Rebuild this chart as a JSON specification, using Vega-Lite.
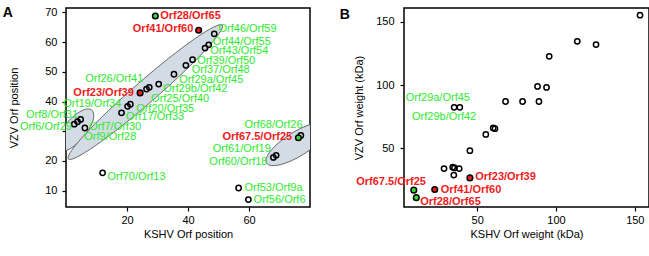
{
  "$schema": "https://vega.github.io/schema/vega-lite/v6.json",
  "padding": {"left": 2, "top": 5, "right": 3, "bottom": 5},
  "config": {
    "font": "Liberation Sans",
    "view": {"stroke": "black", "strokeWidth": 1.5},
    "axis": {"labelFont": "Liberation Sans", "titleFont": "Liberation Sans", "labelFontSize": 11, "titleFontSize": 11, "titleFontWeight": "normal", "labelColor": "black", "titleColor": "black", "domain": false, "grid": false, "tickColor": "black", "tickSize": 4, "tickWidth": 1.2, "labelPadding": 3},
    "concat": {"spacing": 27}
  },
  "datasets": {
    "ptsA": [
      {"name": "Orf28/Orf65", "kshv": 29.3, "vzv": 68.8, "type": "both"},
      {"name": "Orf41/Orf60", "kshv": 43.5, "vzv": 64.0, "type": "red"},
      {"name": "Orf46/Orf59", "kshv": 48.6, "vzv": 62.8, "type": "open"},
      {"name": "Orf44/Orf55", "kshv": 46.8, "vzv": 59.1, "type": "open"},
      {"name": "Orf43/Orf54", "kshv": 45.6, "vzv": 58.0, "type": "open"},
      {"name": "Orf39/Orf50", "kshv": 41.5, "vzv": 54.1, "type": "open"},
      {"name": "Orf37/Orf48", "kshv": 39.3, "vzv": 52.2, "type": "open"},
      {"name": "Orf29a/Orf45", "kshv": 35.4, "vzv": 49.2, "type": "open"},
      {"name": "Orf29b/Orf42", "kshv": 30.4, "vzv": 45.9, "type": "open"},
      {"name": "Orf25/Orf40", "kshv": 27.3, "vzv": 44.8, "type": "open"},
      {"name": "Orf26/Orf41", "kshv": 26.4, "vzv": 44.2, "type": "open"},
      {"name": "Orf23/Orf39", "kshv": 24.3, "vzv": 42.9, "type": "red"},
      {"name": "Orf20/Orf35", "kshv": 21.1, "vzv": 39.1, "type": "open"},
      {"name": "Orf19/Orf34", "kshv": 20.2, "vzv": 38.4, "type": "open"},
      {"name": "Orf17/Orf33", "kshv": 18.2, "vzv": 36.2, "type": "open"},
      {"name": "Orf6/Orf29", "kshv": 2.7, "vzv": 32.4, "type": "open"},
      {"name": "Orf7/Orf30", "kshv": 3.8, "vzv": 33.2, "type": "open"},
      {"name": "Orf8/Orf31", "kshv": 4.8, "vzv": 34.0, "type": "open"},
      {"name": "Orf9/Orf28", "kshv": 6.2, "vzv": 31.1, "type": "open"},
      {"name": "Orf70/Orf13", "kshv": 12.0, "vzv": 16.0, "type": "open"},
      {"name": "Orf53/Orf9a", "kshv": 56.6, "vzv": 10.9, "type": "open"},
      {"name": "Orf56/Orf6", "kshv": 59.8, "vzv": 7.0, "type": "open"},
      {"name": "Orf68/Orf26", "kshv": 77.0, "vzv": 28.6, "type": "open"},
      {"name": "Orf67.5/Orf25", "kshv": 76.2, "vzv": 27.8, "type": "both"},
      {"name": "Orf61/Orf19", "kshv": 68.9, "vzv": 21.9, "type": "open"},
      {"name": "Orf60/Orf18", "kshv": 68.0, "vzv": 21.2, "type": "open"}
    ],
    "lblA": [
      {"text": "Orf28/Orf65", "lx": 30.9, "ly": 68.9, "red": true},
      {"text": "Orf41/Orf60", "lx": 21.9, "ly": 64.3, "red": true},
      {"text": "Orf46/Orf59", "lx": 50.0, "ly": 64.5, "red": false},
      {"text": "Orf44/Orf55", "lx": 48.1, "ly": 60.1, "red": false},
      {"text": "Orf43/Orf54", "lx": 47.3, "ly": 56.9, "red": false},
      {"text": "Orf39/Orf50", "lx": 43.0, "ly": 53.6, "red": false},
      {"text": "Orf37/Orf48", "lx": 41.2, "ly": 50.5, "red": false},
      {"text": "Orf29a/Orf45", "lx": 37.1, "ly": 47.4, "red": false},
      {"text": "Orf29b/Orf42", "lx": 31.9, "ly": 44.2, "red": false},
      {"text": "Orf26/Orf41", "lx": 6.3, "ly": 47.6, "red": false},
      {"text": "Orf23/Orf39", "lx": 2.4, "ly": 42.9, "red": true},
      {"text": "Orf25/Orf40", "lx": 27.9, "ly": 41.0, "red": false},
      {"text": "Orf20/Orf35", "lx": 23.0, "ly": 37.4, "red": false},
      {"text": "Orf17/Orf33", "lx": 19.7, "ly": 34.8, "red": false},
      {"text": "Orf19/Orf34", "lx": -0.9, "ly": 39.1, "red": false},
      {"text": "Orf8/Orf31", "lx": -13.1, "ly": 35.4, "red": false},
      {"text": "Orf6/Orf29", "lx": -15.1, "ly": 31.4, "red": false},
      {"text": "Orf7/Orf30", "lx": 7.6, "ly": 31.5, "red": false},
      {"text": "Orf9/Orf28", "lx": 6.0, "ly": 28.0, "red": false},
      {"text": "Orf70/Orf13", "lx": 13.6, "ly": 14.6, "red": false},
      {"text": "Orf53/Orf9a", "lx": 58.5, "ly": 11.0, "red": false},
      {"text": "Orf56/Orf6", "lx": 61.5, "ly": 7.0, "red": false},
      {"text": "Orf68/Orf26", "lx": 58.5, "ly": 32.1, "red": false},
      {"text": "Orf67.5/Orf25", "lx": 51.3, "ly": 28.1, "red": true},
      {"text": "Orf61/Orf19", "lx": 48.1, "ly": 24.1, "red": false},
      {"text": "Orf60/Orf18", "lx": 47.0, "ly": 19.6, "red": false}
    ],
    "ptsB": [
      {"kshv": 9.8, "vzv": 17.0, "type": "both"},
      {"kshv": 11.4, "vzv": 11.1, "type": "both"},
      {"kshv": 23.1, "vzv": 17.5, "type": "red"},
      {"kshv": 45.4, "vzv": 26.7, "type": "red"},
      {"kshv": 29.0, "vzv": 34.1, "type": "open"},
      {"kshv": 34.5, "vzv": 35.2, "type": "open"},
      {"kshv": 35.6, "vzv": 34.6, "type": "open"},
      {"kshv": 38.6, "vzv": 34.1, "type": "open"},
      {"kshv": 35.2, "vzv": 28.9, "type": "open"},
      {"kshv": 45.4, "vzv": 48.2, "type": "open"},
      {"kshv": 55.5, "vzv": 61.1, "type": "open"},
      {"kshv": 60.2, "vzv": 66.2, "type": "open"},
      {"kshv": 61.3, "vzv": 65.6, "type": "open"},
      {"kshv": 35.4, "vzv": 82.5, "type": "open"},
      {"kshv": 39.0, "vzv": 82.5, "type": "open"},
      {"kshv": 68.0, "vzv": 87.1, "type": "open"},
      {"kshv": 78.8, "vzv": 87.1, "type": "open"},
      {"kshv": 89.2, "vzv": 87.1, "type": "open"},
      {"kshv": 88.3, "vzv": 99.0, "type": "open"},
      {"kshv": 94.0, "vzv": 98.2, "type": "open"},
      {"kshv": 95.7, "vzv": 122.8, "type": "open"},
      {"kshv": 113.5, "vzv": 134.7, "type": "open"},
      {"kshv": 125.4, "vzv": 132.1, "type": "open"},
      {"kshv": 153.3, "vzv": 155.3, "type": "open"}
    ],
    "lblB": [
      {"text": "Orf29a/Orf45", "lx": 4.7, "ly": 89.9, "red": false},
      {"text": "Orf29b/Orf42", "lx": 8.7, "ly": 74.8, "red": false},
      {"text": "Orf67.5/Orf25", "lx": -26.7, "ly": 23.4, "red": true},
      {"text": "Orf41/Orf60", "lx": 26.9, "ly": 16.9, "red": true},
      {"text": "Orf23/Orf39", "lx": 48.8, "ly": 27.4, "red": true},
      {"text": "Orf28/Orf65", "lx": 13.9, "ly": 7.6, "red": true}
    ]
  },
  "hconcat": [
    {
      "width": 244,
      "height": 199,
      "title": {"text": "A", "anchor": "start", "frame": "bounds", "fontSize": 14, "fontWeight": "bold", "font": "Liberation Sans", "offset": -14, "dx": -6},
      "encoding": {
        "x": {"field": "kshv", "type": "quantitative", "scale": {"domain": [0, 80], "nice": false, "zero": false}, "axis": {"values": [20, 40, 60], "title": "KSHV Orf position", "titlePadding": 3}},
        "y": {"field": "vzv", "type": "quantitative", "scale": {"domain": [4.5, 71.5], "nice": false, "zero": false}, "axis": {"values": [10, 20, 30, 40, 50, 60, 70], "labelExpr": "datum.value == 30 ? '' : datum.label", "title": "VZV Orf position", "titlePadding": 25, "labelPadding": 5}}
      },
      "layer": [
        {
          "data": {"values": [{"kshv": 3.0, "vzv": 30.4}]},
          "mark": {"type": "point", "shape": "M -1 0 A 1 0.42 0 1 0 1 0 A 1 0.42 0 1 0 -1 0 Z", "size": 2704, "angle": -50, "filled": true, "fill": "#d3dce5", "fillOpacity": 1, "stroke": "#555555", "strokeWidth": 0.8, "clip": true}
        },
        {
          "data": {"values": [{"kshv": 26.0, "vzv": 43.2}]},
          "mark": {"type": "point", "shape": "M -1 0 A 1 0.108 0 1 0 1 0 A 1 0.108 0 1 0 -1 0 Z", "size": 41616, "angle": -41, "filled": true, "fill": "#d3dce5", "fillOpacity": 1, "stroke": "#555555", "strokeWidth": 0.8, "clip": true}
        },
        {
          "data": {"values": [{"kshv": 75.8, "vzv": 25.7}]},
          "mark": {"type": "point", "shape": "M -1 0 A 1 0.333 0 1 0 1 0 A 1 0.333 0 1 0 -1 0 Z", "size": 5184, "angle": -32, "filled": true, "fill": "#d3dce5", "fillOpacity": 1, "stroke": "#555555", "strokeWidth": 0.8, "clip": true}
        },
        {
          "data": {"name": "ptsA"},
          "transform": [{"filter": "datum.type == 'open'"}],
          "mark": {"type": "point", "shape": "circle", "filled": false, "stroke": "black", "strokeWidth": 1.5, "size": 28, "opacity": 1}
        },
        {
          "data": {"name": "ptsA"},
          "transform": [{"filter": "datum.type == 'red'"}],
          "mark": {"type": "point", "shape": "circle", "filled": true, "fill": "#ee1c1c", "stroke": "black", "strokeWidth": 1.5, "size": 32, "opacity": 1}
        },
        {
          "data": {"name": "ptsA"},
          "transform": [{"filter": "datum.type == 'both'"}],
          "mark": {"type": "point", "shape": "circle", "filled": true, "fill": "#33dd33", "stroke": "black", "strokeWidth": 1.5, "size": 32, "opacity": 1}
        },
        {
          "data": {"name": "lblA"},
          "transform": [{"filter": "!datum.red"}],
          "mark": {"type": "text", "align": "left", "baseline": "middle", "fontSize": 11, "color": "#2fe82f", "font": "Liberation Sans"},
          "encoding": {"x": {"field": "lx", "type": "quantitative"}, "y": {"field": "ly", "type": "quantitative"}, "text": {"field": "text"}}
        },
        {
          "data": {"name": "lblA"},
          "transform": [{"filter": "datum.red"}],
          "mark": {"type": "text", "align": "left", "baseline": "middle", "fontSize": 11, "fontWeight": "bold", "color": "#ee1c1c", "font": "Liberation Sans"},
          "encoding": {"x": {"field": "lx", "type": "quantitative"}, "y": {"field": "ly", "type": "quantitative"}, "text": {"field": "text"}}
        }
      ]
    },
    {
      "width": 245,
      "height": 199,
      "title": {"text": "B", "anchor": "start", "frame": "bounds", "fontSize": 14, "fontWeight": "bold", "font": "Liberation Sans", "offset": -14, "dx": -14},
      "encoding": {
        "x": {"field": "kshv", "type": "quantitative", "scale": {"domain": [3.6, 159], "nice": false, "zero": false}, "axis": {"values": [50, 100, 150], "title": "KSHV Orf weight (kDa)", "titlePadding": 3}},
        "y": {"field": "vzv", "type": "quantitative", "scale": {"domain": [3.7, 161], "nice": false, "zero": false}, "axis": {"values": [50, 100, 150], "title": "VZV Orf weight (kDa)", "titlePadding": 11, "labelPadding": 6}}
      },
      "layer": [
        {
          "data": {"name": "ptsB"},
          "transform": [{"filter": "datum.type == 'open'"}],
          "mark": {"type": "point", "shape": "circle", "filled": false, "stroke": "black", "strokeWidth": 1.5, "size": 28, "opacity": 1}
        },
        {
          "data": {"name": "ptsB"},
          "transform": [{"filter": "datum.type == 'red'"}],
          "mark": {"type": "point", "shape": "circle", "filled": true, "fill": "#ee1c1c", "stroke": "black", "strokeWidth": 1.5, "size": 32, "opacity": 1}
        },
        {
          "data": {"name": "ptsB"},
          "transform": [{"filter": "datum.type == 'both'"}],
          "mark": {"type": "point", "shape": "circle", "filled": true, "fill": "#33dd33", "stroke": "black", "strokeWidth": 1.5, "size": 32, "opacity": 1}
        },
        {
          "data": {"name": "lblB"},
          "transform": [{"filter": "!datum.red"}],
          "mark": {"type": "text", "align": "left", "baseline": "middle", "fontSize": 11, "color": "#2fe82f", "font": "Liberation Sans"},
          "encoding": {"x": {"field": "lx", "type": "quantitative"}, "y": {"field": "ly", "type": "quantitative"}, "text": {"field": "text"}}
        },
        {
          "data": {"name": "lblB"},
          "transform": [{"filter": "datum.red"}],
          "mark": {"type": "text", "align": "left", "baseline": "middle", "fontSize": 11, "fontWeight": "bold", "color": "#ee1c1c", "font": "Liberation Sans"},
          "encoding": {"x": {"field": "lx", "type": "quantitative"}, "y": {"field": "ly", "type": "quantitative"}, "text": {"field": "text"}}
        }
      ]
    }
  ]
}
